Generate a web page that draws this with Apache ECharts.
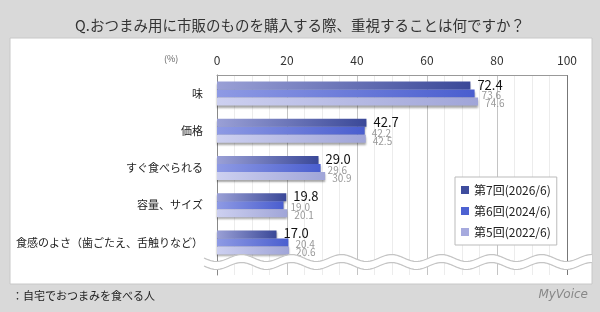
<!DOCTYPE html>
<html>
<head>
<meta charset="utf-8">
<script src="https://cdn.jsdelivr.net/npm/echarts@6/dist/echarts.min.js"></script>
<style>
  html, body { margin: 0; padding: 0; background: #d9d9d9; }
  #chart { width: 600px; height: 312px; }
</style>
</head>
<body>
<div id="chart"></div>
<script>
// 回答項目
const categories = ['味', '価格', 'すぐ食べられる', '容量、サイズ', '食感のよさ（歯ごたえ、舌触りなど）']
const seriesNames = ['第7回(2026/6)', '第6回(2024/6)', '第5回(2022/6)']
const round7 = [72.4, 42.7, 29.0, 19.8, 17.0]
const round6 = [73.6, 42.2, 29.6, 19.0, 20.4]
const round5 = [74.6, 42.5, 30.9, 20.1, 20.6]
const xTicks = [0, 20, 40, 60, 80, 100]

const FONT = '"Noto Sans CJK JP", "Noto Sans", sans-serif'

let myChart = echarts.init(document.getElementById('chart'))

function grad (c1, c2) {
    return new echarts.graphic.LinearGradient(0, 0, 1, 0, [
        { offset: 0, color: c1 },
        { offset: 1, color: c2 }
    ])
}

const barShadow = {
    shadowColor: 'rgba(0,0,0,0.35)',
    shadowBlur: 2,
    shadowOffsetY: 2
}

function makeSeries (name, data, colors, big) {
    return {
        name: name,
        type: 'bar',
        xAxisIndex: 0,
        yAxisIndex: 0,
        barWidth: 8,
        barGap: '0%',
        data: data,
        itemStyle: Object.assign({ color: grad(colors[0], colors[1]) }, barShadow),
        label: {
            show: true,
            position: 'right',
            distance: 7,
            offset: big ? [0, -1] : [0, 2],
            formatter: p => p.value.toFixed(1),
            fontFamily: FONT,
            fontSize: big ? 13 : 10,
            color: big ? '#111' : '#999'
        }
    }
}

// 波線（省略記号）
function wave (yc, x0, x1) {
    let pts = []
    for (let x = x0; x <= x1; x += 2) {
        pts.push([x, yc + 3.5 * Math.sin((x - x0) / 50 * Math.PI * 2)])
    }
    return pts
}

let option = {
    backgroundColor: '#d9d9d9',
    animation: false,
    title: {
        text: 'Q.おつまみ用に市販のものを購入する際、重視することは何ですか？',
        left: 'center',
        top: 13,
        textStyle: { fontFamily: FONT, fontSize: 14.5, fontWeight: 'normal', color: '#333' }
    },
    legend: {
        orient: 'vertical',
        left: 455,
        top: 177,
        padding: [7, 6, 7, 6],
        itemGap: 9,
        itemWidth: 8,
        itemHeight: 8,
        backgroundColor: '#fff',
        borderColor: '#bbb',
        borderWidth: 1,
        textStyle: { fontFamily: FONT, fontSize: 12, color: '#222' },
        data: [
            { name: seriesNames[0], icon: 'rect', itemStyle: { color: '#3f4d9e' } },
            { name: seriesNames[1], icon: 'rect', itemStyle: { color: '#4d62d2' } },
            { name: seriesNames[2], icon: 'rect', itemStyle: { color: '#a6aade' } }
        ]
    },
    grid: [
        { left: 217, right: 33, top: 75, height: 186, containLabel: false },
        { left: 217, right: 33, top: 261, height: 14, containLabel: false }
    ],
    xAxis: [
        {
            gridIndex: 0,
            type: 'value',
            position: 'top',
            min: 0,
            max: 100,
            interval: 20,
            axisLine: { show: true, lineStyle: { color: '#999' } },
            axisTick: { show: false },
            axisLabel: {
                margin: 9,
                fontFamily: FONT,
                fontSize: 12,
                color: '#333',
                formatter: v => xTicks.includes(v) ? String(v) : ''
            },
            splitLine: { lineStyle: { color: ['#888', '#c4c4c4', '#c4c4c4', '#c4c4c4', '#c4c4c4', '#777'] } },
            minorTick: { show: false, splitNumber: 4 },
            minorSplitLine: { show: true, lineStyle: { color: '#ececec' } }
        },
        {
            gridIndex: 1,
            type: 'value',
            min: 0,
            max: 100,
            interval: 20,
            axisLine: { show: false },
            axisTick: { show: false },
            axisLabel: { show: false },
            splitLine: { lineStyle: { color: ['#888', '#c4c4c4', '#c4c4c4', '#c4c4c4', '#c4c4c4', '#777'] } },
            minorTick: { show: false, splitNumber: 4 },
            minorSplitLine: { show: true, lineStyle: { color: '#ececec' } }
        }
    ],
    yAxis: [
        {
            gridIndex: 0,
            type: 'category',
            inverse: true,
            data: categories,
            axisLine: { show: true, lineStyle: { color: '#888' } },
            axisTick: { show: false },
            axisLabel: { margin: 14, fontFamily: FONT, fontSize: 11, color: '#222' }
        },
        {
            gridIndex: 1,
            type: 'value',
            axisLine: { show: true, lineStyle: { color: '#888' } },
            axisTick: { show: false },
            axisLabel: { show: false },
            splitLine: { show: false }
        }
    ],
    series: [
        makeSeries(seriesNames[0], round7, ['#9aa0d6', '#3a4898'], true),
        makeSeries(seriesNames[1], round6, ['#8e9ae4', '#4a5ecf'], false),
        makeSeries(seriesNames[2], round5, ['#cdd0f0', '#a0a5d8'], false)
    ],
    graphic: [
        // 白パネル
        {
            type: 'rect', z: -10, silent: true,
            shape: { x: 10, y: 38, width: 582, height: 246 },
            style: { fill: '#fff', stroke: '#c8c8c8', lineWidth: 1 }
        },
        {
            type: 'text', left: 164, top: 54,
            style: { text: '(%)', fontFamily: FONT, fontSize: 9, fill: '#666' }
        },
        {
            type: 'polyline', z: 50, silent: true,
            shape: { points: wave(262, 204, 592) },
            style: { stroke: '#fff', lineWidth: 8, fill: null }
        },
        {
            type: 'polyline', z: 51, silent: true,
            shape: { points: wave(258, 204, 592) },
            style: { stroke: '#c4c4c4', lineWidth: 1.2, fill: null }
        },
        {
            type: 'polyline', z: 51, silent: true,
            shape: { points: wave(266, 204, 592) },
            style: { stroke: '#c4c4c4', lineWidth: 1.2, fill: null }
        },
        {
            type: 'text', left: 12, top: 290,
            style: { text: '：自宅でおつまみを食べる人', fontFamily: FONT, fontSize: 11, fill: '#222' }
        },
        {
            type: 'text', right: 12, top: 289,
            style: { text: 'MyVoice', fontFamily: '"DejaVu Sans", sans-serif', fontSize: 12, fill: '#888', fontStyle: 'italic' }
        }
    ]
}

myChart.setOption(option)
</script>
</body>
</html>
